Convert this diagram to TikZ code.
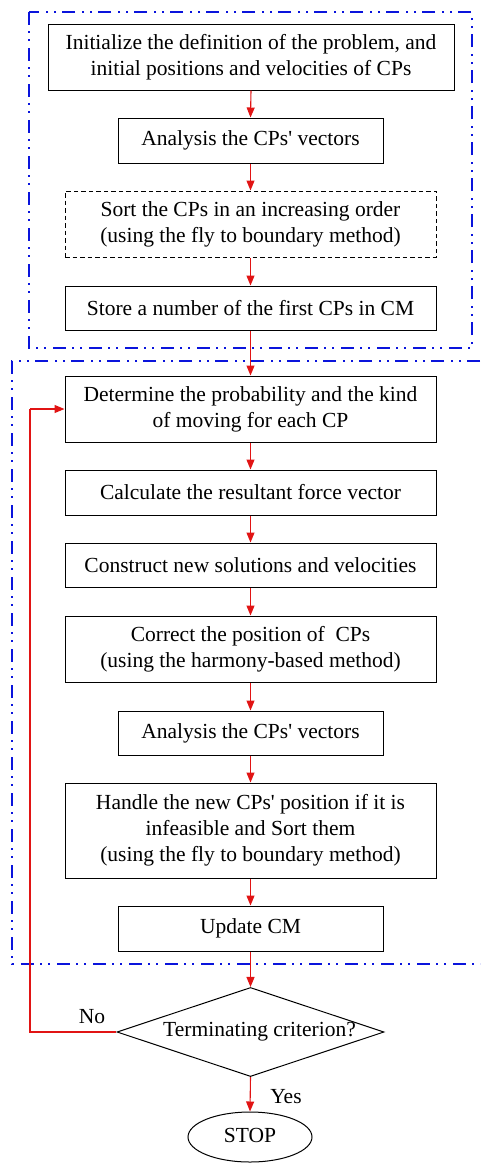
\documentclass[tikz,border=0pt]{standalone}
\usepackage{fontspec}
\setmainfont{Liberation Serif}
\usetikzlibrary{arrows.meta,shapes.geometric}
\definecolor{fblue}{RGB}{10,20,220}
\definecolor{fred}{RGB}{225,20,20}
\newcommand{\apos}{\textquotesingle}
\tikzset{
  box/.style={draw=black,line width=1pt,rectangle,inner sep=0pt,align=center,
    font=\fontsize{21.5}{26}\selectfont},
  wide/.style={box,minimum width=371pt},
  narrow/.style={box,minimum width=265pt},
  arr/.style={draw=fred,line width=1.1pt,-{Triangle[length=10pt,width=8pt]}},
  loopline/.style={draw=fred,line width=1.1pt},
  blueline/.style={draw=fblue,line width=2pt,
    dash pattern=on 13pt off 6pt on 2pt off 6pt on 2pt off 7pt},
  lbl/.style={font=\fontsize{21.5}{26}\selectfont,inner sep=0pt}
}
\begin{document}
\begin{tikzpicture}[x=1pt,y=-1pt]
\useasboundingbox (0,0) rectangle (480,1163);
% blue group frames
\draw[blueline] (29,12) rectangle (472,348);
\draw[blueline] (480,361) -- (12,361) -- (12,964) -- (480,964);
% nodes
\node[box,minimum width=406pt,minimum height=66pt] (b1) at (251,57) {Initialize the definition of the problem, and\\initial positions and velocities of CPs};
\node[narrow,minimum height=45pt] (b2) at (250.5,140.5) {Analysis the CPs\apos{} vectors};
\node[wide,minimum height=66pt,dash pattern=on 4.5pt off 3pt] (b3) at (250.5,224) {Sort the CPs in an increasing order\\(using the fly to boundary method)};
\node[wide,minimum height=44pt] (b4) at (250.5,308) {Store a number of the first CPs in CM};
\node[wide,minimum height=66pt] (b5) at (250.5,409) {Determine the probability and the kind\\of moving for each CP};
\node[wide,minimum height=45pt] (b6) at (250.5,492.5) {Calculate the resultant force vector};
\node[wide,minimum height=44pt] (b7) at (250.5,565) {Construct new solutions and velocities};
\node[wide,minimum height=66pt] (b8) at (250.5,649) {Correct the position of~ CPs\\(using the harmony-based method)};
\node[narrow,minimum height=44pt] (b9) at (250.5,733) {Analysis the CPs\apos{} vectors};
\node[wide,minimum height=95pt] (b10) at (250.5,830.5) {Handle the new CPs\apos{} position if it is\\infeasible and Sort them\\(using the fly to boundary method)};
\node[narrow,minimum height=45pt] (b11) at (250.5,928.5) {Update CM};
\node[draw=black,line width=1pt,diamond,aspect=3,inner sep=0pt,minimum width=263pt,minimum height=88pt,
  font=\fontsize{21.5}{26}\selectfont] (dec) at (250.5,1032) {\hspace*{18pt}\raisebox{-3pt}{Terminating criterion?}};
\node[draw=black,line width=1pt,ellipse,inner sep=0pt,minimum width=124pt,minimum height=50pt,
  font=\fontsize{21.5}{26}\selectfont] (stop) at (250,1137) {\raisebox{4pt}{STOP}};
\node[lbl] (no) at (92,1017) {No};
\node[lbl] (yes) at (286,1097) {Yes};
\coordinate (lb) at (30,1032);
\coordinate (lt) at (30,409);
% connectors
\draw[arr] (b1.south) -- (b2.north);
\draw[arr] (b2.south) -- (b3.north);
\draw[arr] (b3.south) -- (b4.north);
\draw[arr] (b4.south) -- (b5.north);
\draw[arr] (b5.south) -- (b6.north);
\draw[arr] (b6.south) -- (b7.north);
\draw[arr] (b7.south) -- (b8.north);
\draw[arr] (b8.south) -- (b9.north);
\draw[arr] (b9.south) -- (b10.north);
\draw[arr] (b10.south) -- (b11.north);
\draw[arr] (b11.south) -- (dec.north);
\draw[arr] (dec.south) -- (stop.north);
\draw[loopline] (dec.west) -- (lb) -- (lt);
\draw[arr] (lt) -- (b5.west);
\end{tikzpicture}
\end{document}
